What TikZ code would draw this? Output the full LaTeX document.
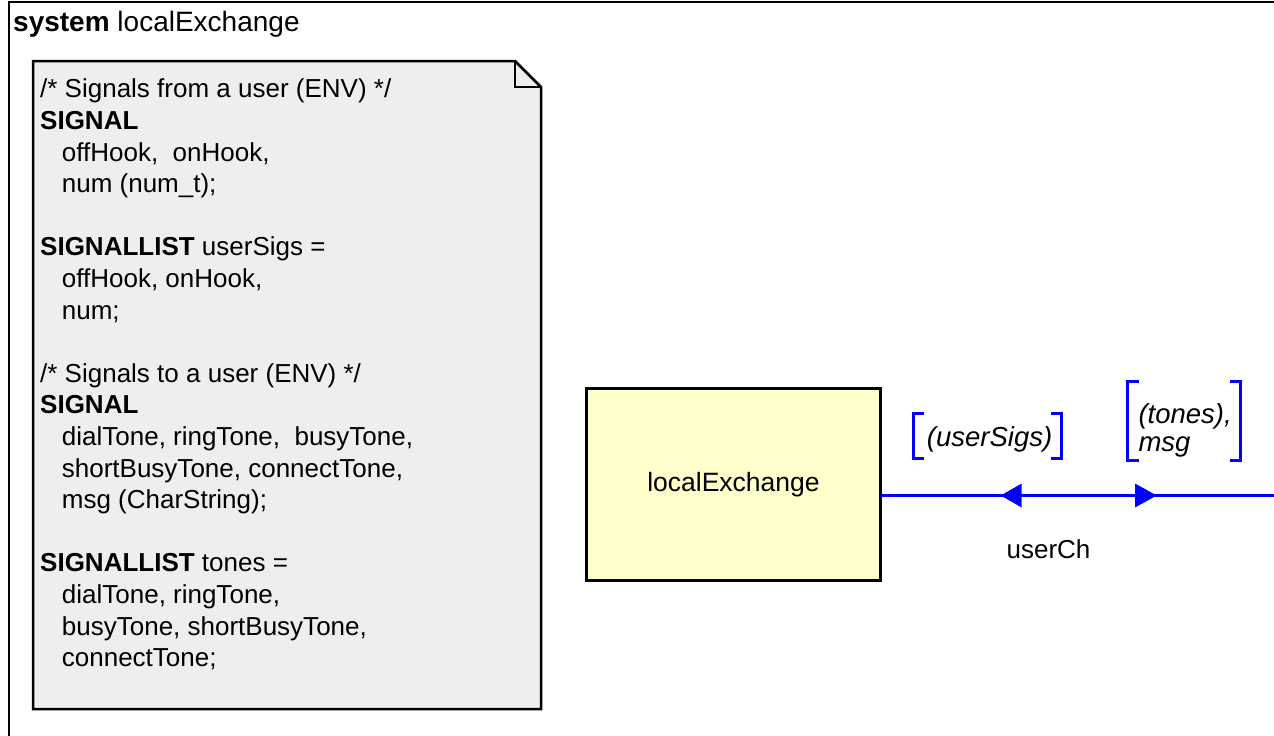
\documentclass[tikz,border=0pt]{standalone}
\usepackage{fontspec}
\setmainfont{Liberation Sans}
\definecolor{notefill}{HTML}{EEEEEE}
\definecolor{blockfill}{HTML}{FFFFCC}
\definecolor{chblue}{RGB}{0,0,255}
\tikzset{
  txt/.style={font=\fontsize{26}{31.6}\selectfont, inner sep=0pt},
  frameline/.style={line width=2.5pt, draw=black},
  notebox/.style={line width=2.5pt, draw=black, fill=notefill},
  blockbox/.style={draw=black, line width=2.5pt, fill=blockfill, minimum width=294pt, minimum height=192pt, inner sep=0pt, font=\fontsize{26.5}{31.6}\selectfont},
  chline/.style={draw=chblue, line width=2.5pt},
  chhead/.style={fill=chblue, draw=none},
  bracket/.style={draw=chblue, line width=2.5pt},
  lbl/.style={font=\fontsize{27.5}{28}\selectfont\itshape, inner sep=0pt, align=left}
}
\begin{document}
\begin{tikzpicture}[x=1pt,y=-1pt]
\useasboundingbox (0,0) rectangle (1274,736);
\clip (0,0) rectangle (1274,736);
\fill[white] (0,0) rectangle (1274,736);
% outer frame
\draw[frameline] (9,760) -- (9,2) -- (1290,2);
\node[txt, font=\fontsize{28}{31.6}\selectfont, anchor=base west] (title) at (13,31.7) {\textbf{system} localExchange};
% note
\draw[notebox] (33,61) -- (515,61) -- (541,87) -- (541,709) -- (33,709) -- cycle;
\draw[line width=2.5pt] (515,61) -- (515,87) -- (541,87);
\node[txt, align=left, anchor=base west] (notetext) at (40,666.7) {%
/* Signals from a user (ENV) */\\
\textbf{SIGNAL}\\
\hspace*{21.7pt}offHook,\ \ onHook,\\
\hspace*{21.7pt}num (num\_t);\\[31.6pt]
\textbf{SIGNALLIST} userSigs =\\
\hspace*{21.7pt}offHook, onHook,\\
\hspace*{21.7pt}num;\\[31.6pt]
/* Signals to a user (ENV) */\\
\textbf{SIGNAL}\\
\hspace*{21.7pt}dialTone, ringTone,\ \ busyTone,\\
\hspace*{21.7pt}shortBusyTone, connectTone,\\
\hspace*{21.7pt}msg (CharString);\\[31.6pt]
\textbf{SIGNALLIST} tones =\\
\hspace*{21.7pt}dialTone, ringTone,\\
\hspace*{21.7pt}busyTone, shortBusyTone,\\
\hspace*{21.7pt}connectTone;};
% block
\node[blockbox] (le) at (733.5,484.5) {localExchange};
% channel
\coordinate (env) at (1290,495.5);
\draw[chline] (le.east |- env) -- (env);
\fill[chhead] (1000.7,495.5) -- (1021.7,483.5) -- (1021.7,507.5) -- cycle;
\fill[chhead] (1156.7,495.5) -- (1135,483.5) -- (1135,507.5) -- cycle;
\node[txt, anchor=base] (chname) at (1048.5,558.3) {userCh};
% signal lists
\node[lbl, anchor=base west] (sigin) at (926.7,446) {(userSigs)};
\draw[bracket] (924.3,413.3) -- (913.3,413.3) -- (913.3,458.3) -- (924.3,458.3);
\draw[bracket] (1050.7,413.3) -- (1061.7,413.3) -- (1061.7,458.3) -- (1050.7,458.3);
\node[lbl, anchor=base west] (sigout) at (1138.3,451) {(tones),\\msg};
\draw[bracket] (1138.7,381.7) -- (1127.7,381.7) -- (1127.7,460.7) -- (1138.7,460.7);
\draw[bracket] (1229.7,381.7) -- (1240.7,381.7) -- (1240.7,460.7) -- (1229.7,460.7);
\end{tikzpicture}
\end{document}
